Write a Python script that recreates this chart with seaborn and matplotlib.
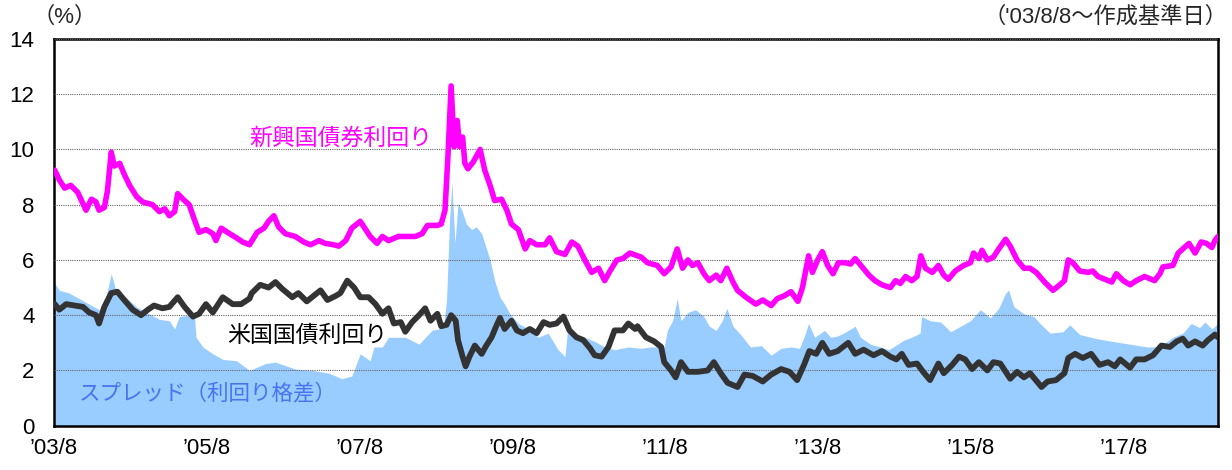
import matplotlib
matplotlib.use("Agg")
import matplotlib.pyplot as plt
import seaborn as sns
import pandas as pd

# 新興国債券利回り (decimal year, %)
em_year = [2003.61, 2003.67, 2003.74, 2003.82, 2003.91, 2004.02, 2004.09, 2004.15, 2004.19, 2004.26,
           2004.30, 2004.35, 2004.39, 2004.46, 2004.52, 2004.59, 2004.68, 2004.76, 2004.89, 2004.98,
           2005.05, 2005.11, 2005.18, 2005.22, 2005.29, 2005.37, 2005.44, 2005.50, 2005.59, 2005.68,
           2005.72, 2005.79, 2005.90, 2005.99, 2006.07, 2006.16, 2006.26, 2006.35, 2006.41, 2006.48,
           2006.54, 2006.63, 2006.76, 2006.87, 2006.96, 2007.07, 2007.15, 2007.26, 2007.33, 2007.42,
           2007.50, 2007.61, 2007.68, 2007.74, 2007.83, 2007.90, 2007.98, 2008.11, 2008.20, 2008.33,
           2008.42, 2008.49, 2008.62, 2008.67, 2008.72, 2008.76, 2008.80, 2008.84, 2008.88, 2008.91,
           2008.95, 2008.98, 2009.02, 2009.09, 2009.18, 2009.24, 2009.31, 2009.37, 2009.46, 2009.53,
           2009.59, 2009.68, 2009.77, 2009.83, 2009.92, 2010.03, 2010.09, 2010.18, 2010.29, 2010.38,
           2010.46, 2010.55, 2010.64, 2010.73, 2010.81, 2010.88, 2010.97, 2011.05, 2011.14, 2011.29,
           2011.37, 2011.50, 2011.59, 2011.68, 2011.76, 2011.83, 2011.90, 2011.96, 2012.03, 2012.11,
           2012.18, 2012.27, 2012.33, 2012.41, 2012.49, 2012.55, 2012.66, 2012.79, 2012.88, 2012.99,
           2013.07, 2013.16, 2013.25, 2013.34, 2013.40, 2013.48, 2013.53, 2013.60, 2013.66, 2013.73,
           2013.80, 2013.87, 2013.96, 2014.03, 2014.09, 2014.18, 2014.27, 2014.35, 2014.44, 2014.55,
           2014.62, 2014.68, 2014.75, 2014.83, 2014.90, 2014.95, 2015.01, 2015.10, 2015.18, 2015.25,
           2015.31, 2015.40, 2015.51, 2015.60, 2015.64, 2015.71, 2015.75, 2015.82, 2015.90, 2015.97,
           2016.06, 2016.12, 2016.21, 2016.30, 2016.38, 2016.46, 2016.57, 2016.68, 2016.77, 2016.83,
           2016.88, 2016.94, 2017.03, 2017.14, 2017.20, 2017.27, 2017.36, 2017.45, 2017.51, 2017.60,
           2017.69, 2017.77, 2017.88, 2018.01, 2018.08, 2018.12, 2018.25, 2018.32, 2018.38, 2018.46,
           2018.54, 2018.62, 2018.69, 2018.76, 2018.80, 2018.84]
em_yield = [9.25, 8.9, 8.6, 8.7, 8.45, 7.8, 8.2, 8.1, 7.8, 7.9,
            8.5, 9.9, 9.4, 9.5, 9.1, 8.7, 8.3, 8.1, 8.0, 7.75,
            7.85, 7.6, 7.75, 8.4, 8.2, 8.0, 7.45, 7.0, 7.1, 6.95,
            6.7, 7.15, 6.95, 6.8, 6.65, 6.55, 7.0, 7.15, 7.4, 7.6,
            7.2, 6.95, 6.85, 6.65, 6.55, 6.7, 6.6, 6.55, 6.5, 6.7,
            7.15, 7.4, 7.1, 6.85, 6.6, 6.85, 6.7, 6.85, 6.85, 6.85,
            6.95, 7.25, 7.25, 7.3, 7.8, 9.85, 12.3, 10.1, 11.05, 10.1,
            10.45, 9.5, 9.3, 9.55, 10.0, 9.25, 8.7, 8.15, 8.2, 7.8,
            7.3, 7.1, 6.4, 6.7, 6.55, 6.55, 6.8, 6.3, 6.2, 6.65,
            6.5, 6.0, 5.55, 5.7, 5.25, 5.6, 6.0, 6.05, 6.25, 6.1,
            5.9, 5.8, 5.5, 5.75, 6.4, 5.7, 6.0, 5.8, 5.9, 5.5,
            5.25, 5.45, 5.25, 5.7, 5.2, 4.9, 4.65, 4.4, 4.55, 4.35,
            4.6, 4.7, 4.85, 4.5, 5.0, 6.15, 5.55, 6.0, 6.3, 5.8,
            5.5, 5.9, 5.9, 5.85, 6.05, 5.75, 5.45, 5.25, 5.1, 5.0,
            5.25, 5.15, 5.4, 5.25, 5.4, 6.15, 5.7, 5.55, 5.8, 5.45,
            5.3, 5.6, 5.8, 5.9, 6.25, 6.05, 6.35, 6.0, 6.1, 6.4,
            6.75, 6.5, 6.0, 5.7, 5.7, 5.55, 5.2, 4.9, 5.1, 5.25,
            6.0, 5.9, 5.6, 5.55, 5.6, 5.4, 5.3, 5.2, 5.5, 5.25,
            5.1, 5.25, 5.4, 5.25, 5.5, 5.75, 5.8, 6.25, 6.4, 6.6,
            6.25, 6.65, 6.6, 6.45, 6.7, 6.85]

# 米国国債利回り
us_year = [2003.61, 2003.67, 2003.76, 2003.87, 2003.98, 2004.06, 2004.15, 2004.19, 2004.26, 2004.35,
           2004.43, 2004.52, 2004.63, 2004.74, 2004.83, 2004.91, 2005.02, 2005.11, 2005.22, 2005.31,
           2005.42, 2005.50, 2005.59, 2005.68, 2005.81, 2005.94, 2006.05, 2006.16, 2006.19, 2006.30,
           2006.41, 2006.50, 2006.59, 2006.72, 2006.80, 2006.91, 2007.00, 2007.09, 2007.18, 2007.29,
           2007.35, 2007.44, 2007.53, 2007.61, 2007.72, 2007.81, 2007.90, 2007.98, 2008.05, 2008.14,
           2008.20, 2008.29, 2008.38, 2008.46, 2008.53, 2008.62, 2008.67, 2008.74, 2008.80, 2008.86,
           2008.89, 2008.95, 2008.99, 2009.04, 2009.11, 2009.20, 2009.26, 2009.33, 2009.39, 2009.44,
           2009.50, 2009.59, 2009.66, 2009.74, 2009.83, 2009.92, 2010.01, 2010.09, 2010.18, 2010.27,
           2010.35, 2010.44, 2010.53, 2010.62, 2010.68, 2010.77, 2010.86, 2010.94, 2011.05, 2011.12,
           2011.21, 2011.24, 2011.35, 2011.46, 2011.55, 2011.59, 2011.68, 2011.74, 2011.81, 2011.90,
           2012.03, 2012.16, 2012.24, 2012.33, 2012.42, 2012.55, 2012.64, 2012.75, 2012.88, 2012.99,
           2013.12, 2013.23, 2013.33, 2013.42, 2013.49, 2013.58, 2013.66, 2013.75, 2013.86, 2014.00,
           2014.09, 2014.20, 2014.33, 2014.44, 2014.55, 2014.63, 2014.70, 2014.79, 2014.90, 2014.98,
           2015.07, 2015.18, 2015.25, 2015.36, 2015.45, 2015.53, 2015.62, 2015.71, 2015.82, 2015.90,
           2015.99, 2016.06, 2016.12, 2016.21, 2016.30, 2016.38, 2016.44, 2016.53, 2016.61, 2016.72,
           2016.83, 2016.88, 2016.97, 2017.07, 2017.18, 2017.29, 2017.40, 2017.49, 2017.56, 2017.69,
           2017.77, 2017.88, 2017.99, 2018.10, 2018.21, 2018.30, 2018.38, 2018.45, 2018.54, 2018.64,
           2018.71, 2018.80, 2018.84]
us_yield = [4.4, 4.2, 4.4, 4.35, 4.3, 4.1, 4.0, 3.7, 4.3, 4.8,
            4.85, 4.55, 4.2, 4.0, 4.2, 4.35, 4.25, 4.3, 4.65, 4.3,
            3.95, 4.05, 4.4, 4.1, 4.65, 4.4, 4.4, 4.6, 4.8, 5.1,
            5.0, 5.2, 4.95, 4.65, 4.8, 4.5, 4.7, 4.9, 4.55, 4.7,
            4.8, 5.25, 5.0, 4.65, 4.65, 4.4, 4.05, 4.25, 3.7, 3.75,
            3.4, 3.75, 4.0, 4.25, 3.8, 4.05, 3.6, 3.65, 4.0, 3.8,
            3.1, 2.5, 2.15, 2.5, 2.9, 2.6, 2.9, 3.2, 3.6, 3.9,
            3.5, 3.8, 3.45, 3.35, 3.5, 3.35, 3.75, 3.65, 3.7, 3.95,
            3.45, 3.2, 3.1, 2.8, 2.55, 2.5, 2.85, 3.45, 3.45, 3.7,
            3.5, 3.6, 3.2, 3.05, 2.85, 2.3, 2.0, 1.75, 2.3, 1.95,
            1.95, 2.0, 2.3, 1.9, 1.55, 1.4, 1.85, 1.8, 1.6, 1.85,
            2.05, 1.95, 1.65, 2.2, 2.7, 2.6, 3.0, 2.6, 2.7, 3.0,
            2.6, 2.75, 2.55, 2.7, 2.5, 2.4, 2.6, 2.2, 2.25, 1.95,
            1.65, 2.25, 1.9, 2.2, 2.5, 2.4, 2.05, 2.3, 2.0, 2.3,
            2.25, 1.95, 1.7, 1.95, 1.75, 1.9, 1.7, 1.4, 1.6, 1.65,
            1.9, 2.45, 2.6, 2.45, 2.6, 2.2, 2.3, 2.15, 2.4, 2.1,
            2.4, 2.4, 2.55, 2.9, 2.85, 3.05, 3.15, 2.9, 3.05, 2.9,
            3.1, 3.3, 3.2]

# スプレッド（利回り格差）
spread_year = [2003.61, 2003.67, 2003.80, 2003.93, 2004.06, 2004.19, 2004.28, 2004.35, 2004.41, 2004.54,
               2004.68, 2004.81, 2004.98, 2005.11, 2005.18, 2005.24, 2005.37, 2005.44, 2005.46, 2005.55,
               2005.68, 2005.81, 2005.99, 2006.16, 2006.37, 2006.50, 2006.76, 2006.98, 2007.20, 2007.37,
               2007.50, 2007.61, 2007.74, 2007.79, 2007.90, 2007.98, 2008.20, 2008.38, 2008.55, 2008.70,
               2008.74, 2008.78, 2008.81, 2008.85, 2008.89, 2008.94, 2009.00, 2009.07, 2009.13, 2009.20,
               2009.24, 2009.31, 2009.37, 2009.44, 2009.50, 2009.57, 2009.68, 2009.81, 2009.94, 2010.07,
               2010.20, 2010.29, 2010.33, 2010.42, 2010.55, 2010.68, 2010.81, 2010.94, 2011.12, 2011.29,
               2011.41, 2011.59, 2011.63, 2011.70, 2011.76, 2011.81, 2011.90, 2012.00, 2012.11, 2012.18,
               2012.27, 2012.35, 2012.41, 2012.49, 2012.59, 2012.72, 2012.86, 2012.99, 2013.12, 2013.25,
               2013.36, 2013.42, 2013.48, 2013.56, 2013.69, 2013.77, 2013.86, 2013.94, 2014.09, 2014.16,
               2014.29, 2014.42, 2014.53, 2014.62, 2014.73, 2014.83, 2014.94, 2014.96, 2015.07, 2015.21,
               2015.34, 2015.47, 2015.60, 2015.73, 2015.86, 2015.97, 2016.06, 2016.10, 2016.17, 2016.30,
               2016.43, 2016.51, 2016.64, 2016.81, 2016.90, 2017.03, 2017.25, 2017.46, 2017.69, 2017.91,
               2018.08, 2018.25, 2018.38, 2018.49, 2018.60, 2018.67, 2018.76, 2018.84]
spread_value = [5.15, 4.9, 4.8, 4.6, 4.4, 4.2, 4.65, 5.5, 4.9, 4.65,
                4.3, 4.1, 3.85, 3.8, 3.5, 3.95, 4.0, 3.95, 3.2, 2.85,
                2.6, 2.4, 2.35, 2.0, 2.25, 2.3, 2.05, 2.0, 1.9, 1.7,
                1.8, 2.6, 2.35, 2.85, 2.85, 3.2, 3.2, 2.95, 3.45, 3.55,
                4.55, 7.45, 8.8, 6.6, 8.05, 7.8, 7.3, 7.1, 7.2, 6.95,
                6.6, 6.0, 5.25, 4.65, 4.4, 4.05, 3.7, 3.5, 3.2, 3.35,
                2.75, 2.5, 3.6, 3.35, 3.2, 3.05, 2.85, 2.75, 2.85, 2.8,
                2.85, 2.85, 3.45, 3.8, 4.6, 3.8, 4.1, 4.2, 3.95, 3.6,
                3.45, 3.8, 4.25, 3.6, 3.3, 2.85, 2.9, 2.55, 2.8, 2.85,
                2.8, 3.2, 3.7, 3.2, 3.45, 3.2, 3.25, 3.35, 3.6, 3.2,
                2.95, 2.85, 2.75, 2.9, 3.1, 3.2, 3.35, 3.95, 3.8, 3.75,
                3.4, 3.6, 3.8, 4.2, 3.9, 4.25, 4.8, 4.9, 4.3, 4.05,
                3.95, 3.7, 3.35, 3.4, 3.65, 3.3, 3.15, 3.05, 2.95, 2.85,
                2.85, 3.2, 3.35, 3.7, 3.55, 3.75, 3.5, 3.7]

tick_years = [2003.6, 2005.6, 2007.6, 2009.6, 2011.6, 2013.6, 2015.6, 2017.6]
tick_labels = ["’03/8", "’05/8", "’07/8", "’09/8", "’11/8", "’13/8", "’15/8", "’17/8"]

em_df = pd.DataFrame({"year": em_year, "yield": em_yield})
us_df = pd.DataFrame({"year": us_year, "yield": us_yield})

sns.set_theme(style="white")
plt.rcParams["font.family"] = ["Liberation Sans", "Noto Sans CJK JP"]

fig = plt.figure(figsize=(12.32, 4.70), dpi=100)
ax = fig.add_axes([0.0438, 0.0943, 0.9448, 0.8228])

# スプレッド（面）
ax.fill_between(spread_year, spread_value, 0, color="#99ccff", lw=0, zorder=1)

# 利回りライン
sns.lineplot(data=em_df, x="year", y="yield", color="#ff00ff", lw=4.0, ax=ax,
             estimator=None, sort=False, zorder=3, solid_joinstyle="round")
sns.lineplot(data=us_df, x="year", y="yield", color="#333333", lw=4.2, ax=ax,
             estimator=None, sort=False, zorder=3, solid_joinstyle="round")

ax.set_xlim(2003.6, 2018.84)
ax.set_ylim(0, 14)
ax.set_yticks(range(0, 15, 2))
ax.set_xticks(tick_years)
ax.set_xticklabels(tick_labels)
ax.set_xlabel("")
ax.set_ylabel("")

ax.set_axisbelow(False)
ax.yaxis.grid(True, color="#666666", linestyle=(0, (1, 1)), linewidth=0.8)
ax.xaxis.grid(False)
ax.tick_params(axis="y", direction="in", length=5, width=1, pad=14, labelsize=16, colors="black")
ax.tick_params(axis="x", direction="in", length=7, width=1, pad=9, labelsize=16, colors="black")
for tl in ax.get_xticklines():
    tl.set_color("#7a8aa0")
for side in ["left", "right", "top", "bottom"]:
    ax.spines[side].set_color("black")
    ax.spines[side].set_linewidth(1.8)

# ラベル
ax.text(0.168, 0.744, "新興国債券利回り", transform=ax.transAxes, color="#ff00ff",
        fontsize=16.5, ha="left", va="center")
ax.text(0.149, 0.234, "米国国債利回り", transform=ax.transAxes, color="black",
        fontsize=16.5, ha="left", va="center", zorder=4)
ax.text(0.021, 0.079, "スプレッド（利回り格差）", transform=ax.transAxes, color="#4a72f0",
        fontsize=15.5, ha="left", va="center", zorder=4)

fig.text(0.026, 0.963, "（%）", fontsize=16, ha="left", va="center")
fig.text(0.996, 0.963, "（'03/8/8～作成基準日）", fontsize=16, ha="right", va="center")

fig.savefig("out.png", dpi=100)
